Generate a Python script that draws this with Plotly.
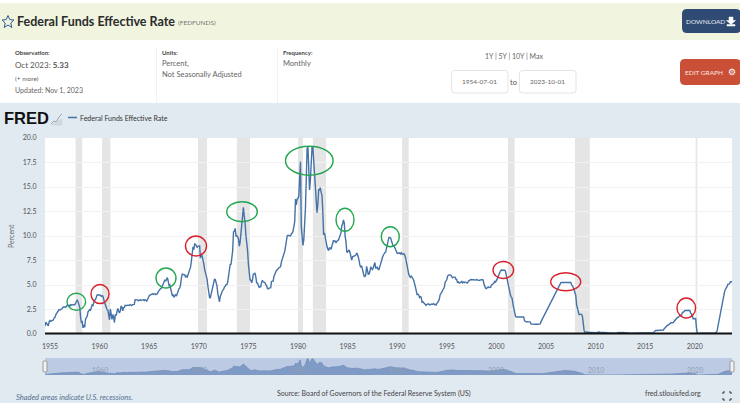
import pandas as pd
import plotly.graph_objects as go

W = 740
H = 403
FONT = "Lato"

# monthly FEDFUNDS values, 1954-07 to 2023-10
rates_1950s = [0.80, 1.22, 1.07, 0.85, 0.83, 1.28,
    1.39, 1.29, 1.35, 1.43, 1.43, 1.64, 1.68, 1.96, 2.18, 2.24, 2.35, 2.48,
    2.45, 2.50, 2.50, 2.62, 2.75, 2.71, 2.75, 2.73, 2.95, 2.96, 2.88, 2.94,
    2.84, 3.00, 2.96, 3.00, 3.00, 3.00, 2.99, 3.24, 3.47, 3.50, 3.28, 2.98,
    2.72, 1.67, 1.20, 1.26, 0.63, 0.93, 0.68, 1.53, 1.76, 1.80, 2.27, 2.42,
    2.48, 2.43, 2.80, 2.96, 2.90, 3.39, 3.47, 3.50, 3.76, 3.98, 4.00, 3.99]
rates_1960s = [3.99, 3.97, 3.84, 3.92, 3.85, 3.32, 3.23, 2.98, 2.60, 2.47, 2.44, 1.98,
    1.45, 2.54, 2.02, 1.49, 1.98, 1.73, 1.17, 2.00, 1.88, 2.26, 2.62, 2.33,
    2.15, 2.37, 2.85, 2.78, 2.36, 2.68, 2.71, 2.93, 2.90, 2.90, 2.94, 2.93,
    2.92, 3.00, 2.98, 2.90, 3.00, 2.99, 3.02, 3.49, 3.48, 3.50, 3.48, 3.38,
    3.48, 3.48, 3.43, 3.47, 3.50, 3.50, 3.42, 3.50, 3.45, 3.36, 3.52, 3.85,
    3.90, 3.98, 4.04, 4.09, 4.10, 4.04, 4.09, 4.12, 4.01, 4.08, 4.10, 4.32,
    4.42, 4.60, 4.65, 4.67, 4.90, 5.17, 5.30, 5.53, 5.40, 5.53, 5.76, 5.40,
    4.94, 5.00, 4.53, 4.05, 3.94, 3.98, 3.79, 3.90, 3.99, 3.88, 4.13, 4.51,
    4.61, 4.71, 5.05, 5.76, 6.11, 6.07, 6.02, 6.03, 5.78, 5.91, 5.82, 6.02,
    6.30, 6.61, 6.79, 7.41, 8.67, 8.90, 8.61, 9.19, 9.15, 9.00, 8.85, 8.97]
rates_1970s = [8.98, 8.98, 7.76, 8.10, 7.95, 7.61, 7.21, 6.61, 6.29, 6.20, 5.60, 4.90,
    4.14, 3.72, 3.71, 4.15, 4.63, 4.91, 5.31, 5.57, 5.55, 5.20, 4.91, 4.14,
    3.50, 3.29, 3.83, 4.17, 4.27, 4.46, 4.55, 4.80, 4.87, 5.04, 5.06, 5.33,
    5.94, 6.58, 7.09, 7.12, 7.84, 8.49, 10.40, 10.50, 10.78, 10.01, 10.03, 9.95,
    9.65, 8.97, 9.35, 10.51, 11.31, 11.93, 12.92, 12.01, 11.34, 10.06, 9.45, 8.53,
    7.13, 6.24, 5.54, 5.49, 5.22, 5.55, 6.10, 6.14, 6.24, 5.82, 5.22, 5.20,
    4.87, 4.77, 4.84, 4.82, 5.29, 5.48, 5.31, 5.29, 5.25, 5.02, 4.95, 4.65,
    4.61, 4.68, 4.69, 4.73, 5.35, 5.39, 5.42, 5.90, 6.14, 6.47, 6.51, 6.56,
    6.70, 6.78, 6.79, 6.89, 7.36, 7.60, 7.81, 8.04, 8.45, 8.96, 9.76, 10.03,
    10.07, 10.06, 10.09, 10.01, 10.24, 10.29, 10.47, 10.94, 11.43, 13.77, 13.18, 13.78]
rates_1980s = [13.82, 14.13, 17.19, 17.61, 10.98, 9.47, 9.03, 9.61, 10.87, 12.81, 15.85, 18.90,
    19.08, 15.93, 14.70, 15.72, 18.52, 19.10, 19.04, 17.82, 15.87, 15.08, 13.31, 12.37,
    13.22, 14.78, 14.68, 14.94, 14.45, 14.15, 12.59, 10.12, 10.31, 9.71, 9.20, 8.95,
    8.68, 8.51, 8.77, 8.80, 8.63, 8.98, 9.37, 9.56, 9.45, 9.48, 9.34, 9.47,
    9.56, 9.59, 9.91, 10.29, 10.32, 11.06, 11.23, 11.64, 11.30, 9.99, 9.43, 8.38,
    8.35, 8.50, 8.58, 8.27, 7.97, 7.53, 7.88, 7.90, 7.92, 7.99, 8.05, 8.27,
    8.14, 7.86, 7.48, 6.99, 6.85, 6.92, 6.56, 6.17, 5.89, 5.85, 6.04, 6.91,
    6.43, 6.10, 6.13, 6.37, 6.85, 6.73, 6.58, 6.73, 7.22, 7.29, 6.69, 6.77,
    6.83, 6.58, 6.58, 6.87, 7.09, 7.51, 7.75, 8.01, 8.19, 8.30, 8.35, 8.76,
    9.12, 9.36, 9.85, 9.84, 9.81, 9.53, 9.24, 8.99, 9.02, 8.84, 8.55, 8.45]
rates_1990s = [8.23, 8.24, 8.28, 8.26, 8.18, 8.29, 8.15, 8.13, 8.20, 8.11, 7.81, 7.31,
    6.91, 6.25, 6.12, 5.91, 5.78, 5.90, 5.82, 5.66, 5.45, 5.21, 4.81, 4.43,
    4.03, 4.06, 3.98, 3.73, 3.82, 3.76, 3.25, 3.30, 3.22, 3.10, 3.09, 2.92,
    3.02, 3.03, 3.07, 2.96, 3.00, 3.04, 3.06, 3.03, 3.09, 2.99, 3.02, 2.96,
    3.05, 3.25, 3.34, 3.56, 4.01, 4.25, 4.26, 4.47, 4.73, 4.76, 5.29, 5.45,
    5.53, 5.92, 5.98, 6.05, 6.01, 6.00, 5.85, 5.74, 5.80, 5.76, 5.80, 5.60,
    5.56, 5.22, 5.31, 5.22, 5.24, 5.27, 5.40, 5.22, 5.30, 5.24, 5.31, 5.29,
    5.25, 5.19, 5.39, 5.51, 5.50, 5.56, 5.52, 5.54, 5.54, 5.50, 5.52, 5.50,
    5.56, 5.51, 5.49, 5.45, 5.49, 5.56, 5.54, 5.55, 5.51, 5.07, 4.83, 4.68,
    4.63, 4.76, 4.81, 4.74, 4.74, 4.76, 4.99, 5.07, 5.22, 5.20, 5.42, 5.30]
rates_2000s = [5.45, 5.73, 5.85, 6.02, 6.27, 6.53, 6.54, 6.50, 6.52, 6.51, 6.51, 6.40,
    5.98, 5.49, 5.31, 4.80, 4.21, 3.97, 3.77, 3.65, 3.07, 2.49, 2.09, 1.82,
    1.73, 1.74, 1.73, 1.75, 1.75, 1.75, 1.73, 1.74, 1.75, 1.75, 1.34, 1.24,
    1.24, 1.26, 1.25, 1.26, 1.26, 1.22, 1.01, 1.03, 1.01, 1.01, 1.00, 0.98,
    1.00, 1.01, 1.00, 1.00, 1.00, 1.03, 1.26, 1.43, 1.61, 1.76, 1.93, 2.16,
    2.28, 2.50, 2.63, 2.79, 3.00, 3.04, 3.26, 3.50, 3.62, 3.78, 4.00, 4.16,
    4.29, 4.49, 4.59, 4.79, 4.94, 4.99, 5.24, 5.25, 5.25, 5.25, 5.25, 5.24,
    5.25, 5.26, 5.26, 5.25, 5.25, 5.25, 5.26, 5.02, 4.94, 4.76, 4.49, 4.24,
    3.94, 2.98, 2.61, 2.28, 1.98, 2.00, 2.01, 2.00, 1.81, 0.97, 0.39, 0.16,
    0.15, 0.22, 0.18, 0.15, 0.18, 0.21, 0.16, 0.16, 0.15, 0.12, 0.12, 0.12]
rates_2010s = [0.11, 0.13, 0.16, 0.20, 0.20, 0.18, 0.18, 0.19, 0.19, 0.19, 0.19, 0.18,
    0.17, 0.16, 0.14, 0.10, 0.09, 0.09, 0.07, 0.10, 0.08, 0.07, 0.08, 0.07,
    0.08, 0.10, 0.13, 0.14, 0.16, 0.16, 0.16, 0.13, 0.14, 0.16, 0.16, 0.16,
    0.14, 0.15, 0.14, 0.15, 0.11, 0.09, 0.09, 0.08, 0.08, 0.09, 0.08, 0.09,
    0.07, 0.07, 0.08, 0.09, 0.09, 0.10, 0.09, 0.09, 0.09, 0.09, 0.09, 0.12,
    0.11, 0.11, 0.11, 0.12, 0.12, 0.13, 0.13, 0.14, 0.14, 0.12, 0.12, 0.24,
    0.34, 0.38, 0.36, 0.37, 0.37, 0.38, 0.39, 0.40, 0.40, 0.40, 0.41, 0.54,
    0.65, 0.66, 0.79, 0.90, 0.91, 1.04, 1.15, 1.16, 1.15, 1.15, 1.16, 1.30,
    1.41, 1.42, 1.51, 1.69, 1.70, 1.82, 1.91, 1.91, 1.95, 2.19, 2.20, 2.27,
    2.40, 2.40, 2.41, 2.42, 2.39, 2.38, 2.40, 2.13, 2.04, 1.83, 1.55, 1.55]
rates_2020s = [1.55, 1.58, 0.65, 0.05, 0.05, 0.08, 0.09, 0.10, 0.09, 0.09, 0.09, 0.09,
    0.09, 0.08, 0.07, 0.07, 0.06, 0.08, 0.10, 0.09, 0.08, 0.08, 0.08, 0.08,
    0.08, 0.08, 0.20, 0.33, 0.77, 1.21, 1.68, 2.33, 2.56, 3.08, 3.78, 4.10,
    4.33, 4.57, 4.65, 4.83, 5.06, 5.08, 5.12, 5.33, 5.33, 5.33]

recession_starts = ["1957-08-01", "1960-04-01", "1969-12-01", "1973-11-01", "1980-01-01",
                    "1981-07-01", "1990-07-01", "2001-03-01", "2007-12-01", "2020-02-01"]
recession_ends = ["1958-04-01", "1961-02-01", "1970-11-01", "1975-03-01", "1980-07-01",
                  "1982-11-01", "1991-03-01", "2001-11-01", "2009-06-01", "2020-04-01"]

x_tick_years = list(range(1955, 2021, 5))
y_ticks = [0, 2.5, 5, 7.5, 10, 12.5, 15, 17.5, 20]
nav_years = [1960, 1970, 1980, 1990, 2000, 2010, 2020]

rates = (rates_1950s + rates_1960s + rates_1970s + rates_1980s
         + rates_1990s + rates_2000s + rates_2010s + rates_2020s)
dates = pd.date_range("1954-07-01", periods=len(rates), freq="MS")
x_range = ["1954-07-01", "2023-10-01"]
x_ticks = [f"{y}-01-01" for y in x_tick_years]

# hand circles on the screenshot: centre x, centre y, radius x, radius y (pixels)
green_marks = [(76.3, 301.7, 9.3, 8.5), (166, 278, 10, 10), (242, 211.7, 15.3, 10),
               (309.3, 160.7, 23.8, 14.5), (345, 219.7, 9, 11.5), (390.3, 236.7, 9, 10)]
red_marks = [(100, 294, 9, 9.5), (196, 246, 10.5, 10), (503.3, 270, 10.3, 8.5),
             (565.7, 281.7, 15, 9), (686.3, 308, 9.3, 10)]


def px(x):
    return x / W


def py(y):
    return 1 - y / H


def rect(x0, y0, x1, y1, fill, line=None):
    return dict(type="rect", xref="paper", yref="paper", layer="below",
                x0=px(x0), x1=px(x1), y0=py(y0), y1=py(y1), fillcolor=fill,
                line=dict(color=line or fill, width=1 if line else 0))


def rounded(x0, y0, x1, y1, r, fill, line=None):
    path = (f"M{px(x0 + r)},{py(y0)} L{px(x1 - r)},{py(y0)} Q{px(x1)},{py(y0)} {px(x1)},{py(y0 + r)} "
            f"L{px(x1)},{py(y1 - r)} Q{px(x1)},{py(y1)} {px(x1 - r)},{py(y1)} "
            f"L{px(x0 + r)},{py(y1)} Q{px(x0)},{py(y1)} {px(x0)},{py(y1 - r)} "
            f"L{px(x0)},{py(y0 + r)} Q{px(x0)},{py(y0)} {px(x0 + r)},{py(y0)} Z")
    return dict(type="path", xref="paper", yref="paper", layer="above", path=path, fillcolor=fill,
                line=dict(color=line or fill, width=1 if line else 0))


def poly(points, color, width=1, fill=None, close=False):
    path = "M" + " L".join(f"{px(a)},{py(b)}" for a, b in points) + (" Z" if close else "")
    return dict(type="path", xref="paper", yref="paper", layer="above", path=path,
                fillcolor=fill or "rgba(0,0,0,0)", line=dict(color=color, width=width))


def label(x, y, text, size=7, color="#555555", anchor="left", font=FONT, angle=0):
    return dict(xref="paper", yref="paper", x=px(x), y=py(y), text=text, showarrow=False,
                xanchor=anchor, yanchor="middle", align=anchor, textangle=angle,
                borderwidth=0, borderpad=0,
                font=dict(size=size, color=color, family=font))


shapes = [
    rect(0, 3, W, 40, "#f1f4df"),
    rect(0, 103, W, H, "#e1e9f1"),
    rect(45, 138, 732, 334, "#ffffff"),
    rect(45, 358, 732, 375, "#bccae3"),
    rect(156, 48, 157, 103, "#f2f2f2"),
    rect(277, 48, 278, 103, "#f2f2f2"),
    rounded(682, 9, 741, 33, 5, "#2f4a73"),
    rounded(680, 59, 741, 85, 5, "#c94f37"),
    rounded(451.5, 70.5, 508, 93, 3, "#ffffff", "#e4e4e4"),
    rounded(519.5, 70.5, 576, 93, 3, "#ffffff", "#e4e4e4"),
    # baseline at zero
    poly([(45, 333.5), (732, 333.5)], "#111111", 2),
    # star
    poly([(8, 15.5), (9.8, 19.6), (14, 20), (10.8, 23), (11.8, 27.5), (8, 25), (4.2, 27.5), (5.2, 23),
          (2, 20), (6.2, 19.6)], "#2b5c94", 1, close=True),
    # download arrow
    poly([(729, 17), (729, 20.5), (726.5, 20.5), (731, 24.5), (735.5, 20.5), (733, 20.5), (733, 17)],
         "#ffffff", 0.5, "#ffffff", True),
    poly([(727, 26), (735, 26), (735, 24.5), (727, 24.5)], "#ffffff", 0.5, "#ffffff", True),
    # FRED logo graph
    poly([(51, 124), (54, 121), (56, 122), (59, 117), (62, 114)], "#9aa5b0", 1),
    poly([(51, 125), (62, 125), (62, 119), (58, 121), (55, 123)], "#c7ced6", 0.5, "#d3d9df", True),
    # legend key
    poly([(68, 117.5), (77, 117.5)], "#4572a7", 1.5),
    # navigator handles
    rounded(43, 361, 47, 372, 1, "#f2f2f2", "#9a9a9a"),
    rounded(730, 361, 734, 372, 1, "#f2f2f2", "#9a9a9a"),
    # fullscreen icon
    poly([(723, 394), (723, 392), (725, 392)], "#333333", 1),
    poly([(729, 392), (731, 392), (731, 394)], "#333333", 1),
    poly([(723, 398), (723, 400), (725, 400)], "#333333", 1),
    poly([(729, 400), (731, 400), (731, 398)], "#333333", 1),
]

for start, end in zip(recession_starts, recession_ends):
    shapes.append(dict(type="rect", xref="x", yref="y", layer="below", x0=start, x1=end,
                       y0=0, y1=20, fillcolor="#e5e5e5", line=dict(width=0)))

for marks, color in ((green_marks, "#23a650"), (red_marks, "#d8202c")):
    for cx, cy, rx, ry in marks:
        shapes.append(dict(type="circle", xref="paper", yref="paper", layer="above",
                           x0=px(cx - rx), x1=px(cx + rx), y0=py(cy + ry), y1=py(cy - ry),
                           line=dict(color=color, width=1.4)))

annotations = [
    label(17, 21, "<b>Federal Funds Effective Rate</b>", 12.5, "#2b2b2b"),
    label(178, 23, "(FEDFUNDS)", 6.5, "#777777"),
    label(15, 52, "<b>Observation:</b>", 6, "#444444"),
    label(15, 65, "Oct 2023: <b>5.33</b>", 8, "#555555"),
    label(15, 78, "(+ more)", 6.5, "#666666"),
    label(15, 90, "Updated: Nov 1, 2023", 7, "#666666"),
    label(162, 52, "<b>Units:</b>", 6, "#444444"),
    label(162, 63, "Percent,", 7.5, "#666666"),
    label(162, 75, "Not Seasonally Adjusted", 7.5, "#666666"),
    label(283, 52, "<b>Frequency:</b>", 6, "#444444"),
    label(283, 63, "Monthly", 7.5, "#666666"),
    label(514, 56, "1Y | 5Y | 10Y | Max", 7, "#666666", "center"),
    label(479.5, 81.5, "1954-07-01", 6.5, "#666666", "center"),
    label(547.5, 81.5, "2023-10-01", 6.5, "#666666", "center"),
    label(513.5, 82, "to", 7.5, "#555555", "center"),
    label(686, 21, "DOWNLOAD", 6.5, "#e8edf4"),
    label(685, 72, "EDIT GRAPH", 6.5, "#fbe6e0"),
    label(732, 71.5, "⚙", 9, "#ffffff", "center", "DejaVu Sans"),
    label(4, 118, "<b>FRED</b>", 16.5, "#111111", font="Liberation Sans"),
    label(80, 118, "Federal Funds Effective Rate", 7, "#333333"),
    label(11, 236, "Percent", 7, "#666666", "center", angle=-90),
    label(16, 397, "<i>Shaded areas indicate U.S. recessions.</i>", 7.5, "#53718f"),
    label(277, 393, "Source: Board of Governors of the Federal Reserve System (US)", 7, "#444444"),
    label(645, 393, "fred.stlouisfed.org", 7, "#444444"),
]
for year in nav_years:
    annotations.append(dict(xref="x2", yref="paper", x=f"{year}-01-01", y=py(369.5), text=str(year),
                            showarrow=False, xanchor="center", yanchor="middle",
                            font=dict(size=7, color="#8fa0b5", family=FONT)))

fig = go.Figure()
fig.add_trace(go.Scatter(x=dates, y=rates, mode="lines", xaxis="x", yaxis="y",
                         line=dict(color="#4572a7", width=1.4), hoverinfo="skip"))
fig.add_trace(go.Scatter(x=dates, y=rates, mode="lines", xaxis="x2", yaxis="y2", fill="tozeroy",
                         fillcolor="#7f9ac4", line=dict(color="#6d8cba", width=0.7), hoverinfo="skip"))

fig.update_layout(
    width=W, height=H, margin=dict(l=0, r=0, t=0, b=0, autoexpand=False), showlegend=False,
    paper_bgcolor="#ffffff", plot_bgcolor="rgba(0,0,0,0)",
    shapes=shapes, annotations=annotations,
    xaxis=dict(type="date", domain=[px(45), px(732)], range=x_range, tickvals=x_ticks,
               tickformat="%Y", ticks="outside", ticklen=6, tickcolor="rgba(0,0,0,0)",
               showgrid=False, zeroline=False, showline=False,
               tickfont=dict(size=7, color="#555555", family=FONT), anchor="y"),
    yaxis=dict(domain=[py(334), py(138)], range=[0, 20], tickvals=y_ticks, tickformat=".1f",
               gridcolor="#f1f1f1", gridwidth=1, zeroline=False, showline=False,
               ticks="outside", ticklen=6, tickcolor="rgba(0,0,0,0)", anchor="x",
               tickfont=dict(size=7, color="#555555", family=FONT)),
    xaxis2=dict(type="date", domain=[px(45), px(732)], range=x_range, visible=False, anchor="y2"),
    yaxis2=dict(domain=[py(375), py(358)], range=[0, 20], visible=False, anchor="x2"),
)

# pin the graph to the window corner so the page's default margin does not shift it
pin = ("document.body.style.margin='0';"
       "var gd=document.getElementById('{plot_id}');"
       "gd.style.position='fixed';gd.style.left='0';gd.style.top='0';")
fig.write_html("out.html", config={"displayModeBar": False}, post_script=pin)
